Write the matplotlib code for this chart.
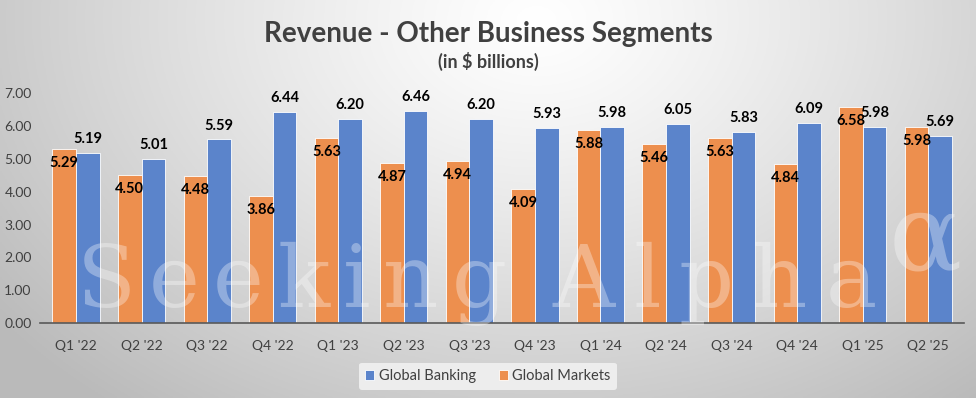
import matplotlib.pyplot as plt
import numpy as np

quarters = ["Q1 '22", "Q2 '22", "Q3 '22", "Q4 '22", "Q1 '23", "Q2 '23", "Q3 '23",
            "Q4 '23", "Q1 '24", "Q2 '24", "Q3 '24", "Q4 '24", "Q1 '25", "Q2 '25"]
global_markets = [5.29, 4.50, 4.48, 3.86, 5.63, 4.87, 4.94, 4.09, 5.88, 5.46, 5.63, 4.84, 6.58, 5.98]
global_banking = [5.19, 5.01, 5.59, 6.44, 6.20, 6.46, 6.20, 5.93, 5.98, 6.05, 5.83, 6.09, 5.98, 5.69]
yticks = [0, 1, 2, 3, 4, 5, 6, 7]

orange = "#ed8f4e"
blue = "#5b84cb"
txt = "#404040"

W, H = 976, 398
fig = plt.figure(figsize=(W / 100, H / 100), dpi=100)
plt.rcParams["font.family"] = ["Lato", "DejaVu Sans"]

# background gradient: light near top centre, grey at left and bottom
bg = fig.add_axes([0, 0, 1, 1])
yy, xx = np.mgrid[0:1:200j, 0:1:400j]
d = np.sqrt(((xx - 0.55) / 0.7) ** 2 + ((yy - 0.05) / 1.25) ** 2)
shade = 1.0 - 0.27 * np.clip(d, 0, 1) ** 1.2
bg.imshow(np.dstack([shade] * 3), aspect="auto", extent=[0, 1, 1, 0], zorder=0)
bg.axis("off")

ax = fig.add_axes([0.041, 0.188, 0.947, 0.578])
ax.set_facecolor("none")
x = np.arange(len(quarters))
w = 0.36
b1 = ax.bar(x - w / 2, global_markets, w, color=orange, edgecolor="white", linewidth=0.6,
            label="Global Markets", zorder=2)
b2 = ax.bar(x + w / 2, global_banking, w, color=blue, edgecolor="white", linewidth=0.6,
            label="Global Banking", zorder=2)

for r, v in zip(b1, global_markets):
    ax.annotate(f"{v:.2f}", (r.get_x() + r.get_width() / 2, v), xytext=(0, -5),
                textcoords="offset points", ha="center", va="top",
                fontsize=10.5, fontweight="bold", color="black", zorder=4)
for r, v in zip(b2, global_banking):
    ax.annotate(f"{v:.2f}", (r.get_x() + r.get_width() / 2, v), xytext=(0, 5),
                textcoords="offset points", ha="center", va="bottom",
                fontsize=10.5, fontweight="bold", color="black", zorder=4)

ax.set_xlim(-0.55, len(quarters) - 0.45)
ax.set_ylim(0, 7)
ax.set_yticks(yticks)
ax.set_yticklabels([f"{t:.2f}" for t in yticks])
ax.set_xticks(x)
ax.set_xticklabels(quarters)
ax.tick_params(axis="both", length=0, labelsize=10, colors=txt)
ax.tick_params(axis="x", pad=12)
ax.tick_params(axis="y", pad=6)
for s in ["top", "right", "left"]:
    ax.spines[s].set_visible(False)
ax.spines["bottom"].set_color("#595959")
ax.spines["bottom"].set_linewidth(1.2)

handles = [b2, b1]
leg = fig.legend(handles, ["Global Banking", "Global Markets"], loc="center",
                 bbox_to_anchor=(0.5, 0.055), ncol=2, frameon=True, fontsize=10.5,
                 handlelength=0.6, handleheight=0.6, handletextpad=0.3, columnspacing=1.6,
                 borderpad=0.45)
leg.get_frame().set_facecolor("#ededed")
leg.get_frame().set_edgecolor("none")
leg.get_frame().set_alpha(1)
for t in leg.get_texts():
    t.set_color(txt)

fig.text(0.5, 0.915, "Revenue - Other Business Segments", ha="center", va="center",
         fontsize=20, fontweight="bold", color=txt)
fig.text(0.5, 0.845, "(in $ billions)", ha="center", va="center",
         fontsize=13, fontweight="bold", color=txt)

# watermark: letters spread out to span the same width as the reference
renderer = fig.canvas.get_renderer()
wm = dict(fontsize=62, family="DejaVu Serif", color="white", alpha=0.33,
          ha="left", va="baseline", zorder=5)
base_y = (H - 307) / H
for word, x0, x1 in [("Seeking", 77, 507), ("Alpha", 553, 877)]:
    letters = [fig.text(0, base_y, c, **wm) for c in word]
    widths = [t.get_window_extent(renderer).width for t in letters]
    gap = (x1 - x0 - sum(widths)) / (len(word) - 1)
    pos = x0
    for t, wd in zip(letters, widths):
        t.set_x(pos / W)
        pos += wd + gap
fig.text(0.948, (H - 240) / H, "\u03b1", fontsize=78, family="DejaVu Serif",
         color="white", alpha=0.33, ha="center", va="center", zorder=5)

fig.savefig("out.png", dpi=100)
